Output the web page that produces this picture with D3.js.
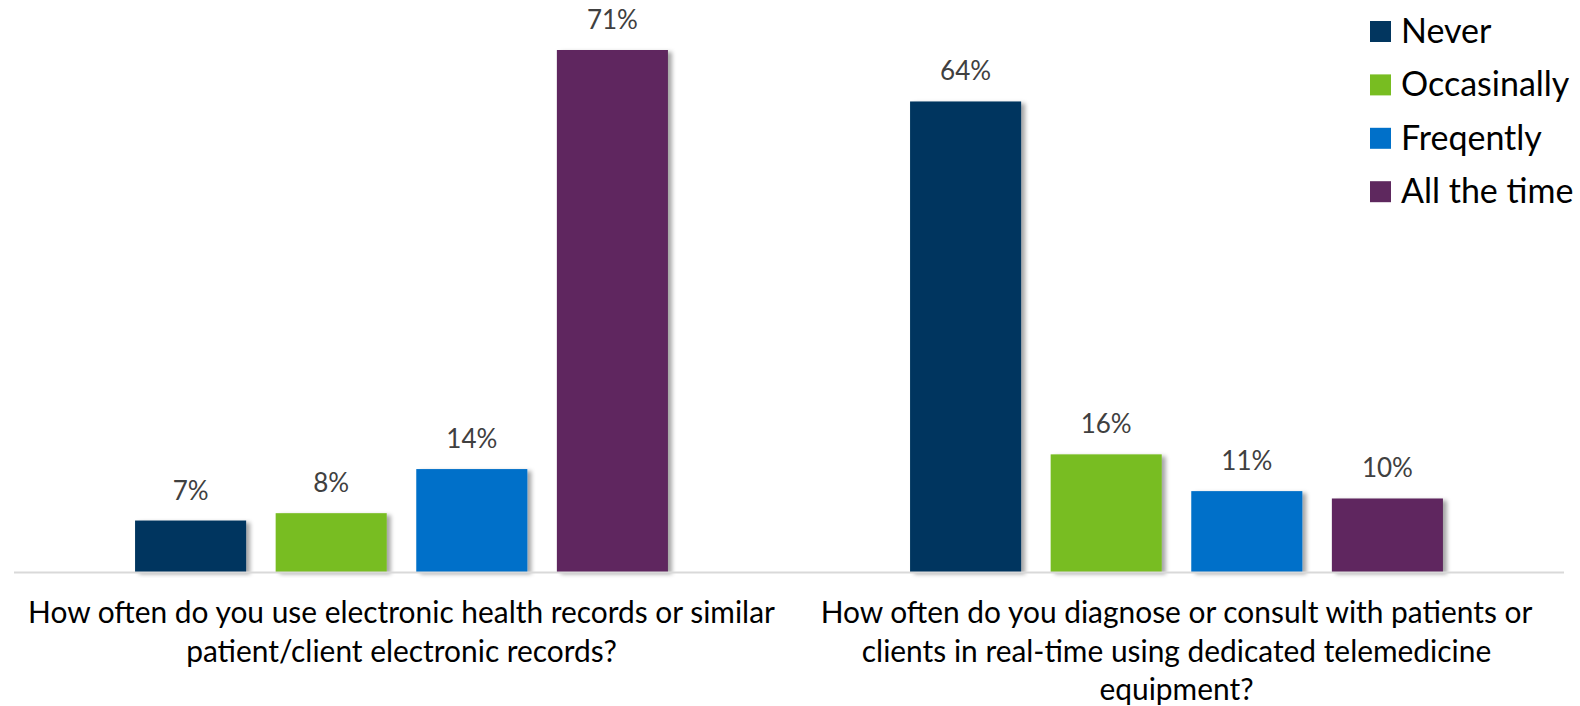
<!DOCTYPE html>
<html>
<head>
<meta charset="utf-8">
<script src="https://cdn.jsdelivr.net/npm/d3@7"></script>
<style>
  html, body { margin: 0; padding: 0; background: #ffffff; }
  svg { display: block; }
  text { font-family: Lato, "Open Sans", sans-serif; }
</style>
</head>
<body>
<svg id="chart" width="1580" height="706"></svg>
<script>
// Survey questions (x-axis categories)
const questions = [
  "How often do you use electronic health records or similar patient/client electronic records?",
  "How often do you diagnose or consult with patients or clients in real-time using dedicated telemedicine equipment?"
];
// Wrapped lines of each question label
const questionLines = [
  ["How often do you use electronic health records or similar", "patient/client electronic records?"],
  ["How often do you diagnose or consult with patients or", "clients in real-time using dedicated telemedicine", "equipment?"]
];
// Response frequencies (series)
const responses = ["Never", "Occasinally", "Freqently", "All the time"];
// Percent of respondents, one array per response, ordered as questions
const neverValues = [7, 64];
const occasionallyValues = [8, 16];
const frequentlyValues = [14, 11];
const allTheTimeValues = [71, 10];
const seriesValues = [neverValues, occasionallyValues, frequentlyValues, allTheTimeValues];
const colors = ["#02365f", "#78bd21", "#0070c9", "#5e285e"];

const svg = d3.select("#chart");

const defs = svg.append("defs");
const shadow = defs.append("filter").attr("id", "barShadow")
  .attr("x", "-10%").attr("y", "-10%").attr("width", "130%").attr("height", "120%");
shadow.append("feDropShadow")
  .attr("dx", 4).attr("dy", 2).attr("stdDeviation", 2.2)
  .attr("flood-color", "#000").attr("flood-opacity", 0.35);

const plot = { left: 14, right: 1564, top: 50, bottom: 572 };

const x0 = d3.scaleBand().domain(questions).range([plot.left, plot.right]).paddingInner(0).paddingOuter(0);
const x1 = d3.scaleBand().domain(responses)
  .range([0, x0.bandwidth()]).paddingInner(0.21).paddingOuter(0.861);
const y = d3.scaleLinear().domain([0, 71]).range([plot.bottom, plot.top]);

// Bars
const groups = svg.append("g").selectAll("g")
  .data(questions).join("g")
  .attr("transform", d => `translate(${x0(d)},0)`);

groups.each(function(q, qi) {
  const g = d3.select(this);
  const rows = responses.map((r, ri) => ({ r, ri, v: seriesValues[ri][qi] }));
  g.selectAll("rect").data(rows).join("rect")
    .attr("x", d => x1(d.r))
    .attr("y", d => y(d.v))
    .attr("width", x1.bandwidth())
    .attr("height", d => y(0) - y(d.v))
    .attr("fill", d => colors[d.ri])
    .attr("filter", "url(#barShadow)");
  g.selectAll("text.val").data(rows).join("text")
    .attr("class", "val")
    .attr("x", d => x1(d.r) + x1.bandwidth() / 2)
    .attr("y", d => y(d.v) - 21)
    .attr("text-anchor", "middle")
    .attr("font-size", 26)
    .attr("fill", "#404040")
    .text(d => d.v + "%");
});

// Category axis line
svg.append("line")
  .attr("x1", plot.left).attr("x2", plot.right)
  .attr("y1", plot.bottom + 0.5).attr("y2", plot.bottom + 0.5)
  .attr("stroke", "#d9d9d9").attr("stroke-width", 2);

// Category labels
questions.forEach((q, qi) => {
  const t = svg.append("text")
    .attr("x", x0(q) + x0.bandwidth() / 2)
    .attr("y", 623)
    .attr("text-anchor", "middle")
    .attr("font-size", 29.9)
    .attr("fill", "#000");
  questionLines[qi].forEach((line, li) => {
    t.append("tspan")
      .attr("x", x0(q) + x0.bandwidth() / 2)
      .attr("dy", li === 0 ? 0 : 38.5)
      .text(line);
  });
});

// Legend
const legend = svg.append("g").attr("transform", "translate(1370,21)");
const items = legend.selectAll("g").data(responses).join("g")
  .attr("transform", (d, i) => `translate(0,${i * 53.4})`);
items.append("rect").attr("width", 21).attr("height", 21)
  .attr("fill", (d, i) => colors[i]);
items.append("text").attr("x", 31).attr("y", 22)
  .attr("font-size", 34).attr("fill", "#000")
  .text(d => d);
</script>
</body>
</html>
